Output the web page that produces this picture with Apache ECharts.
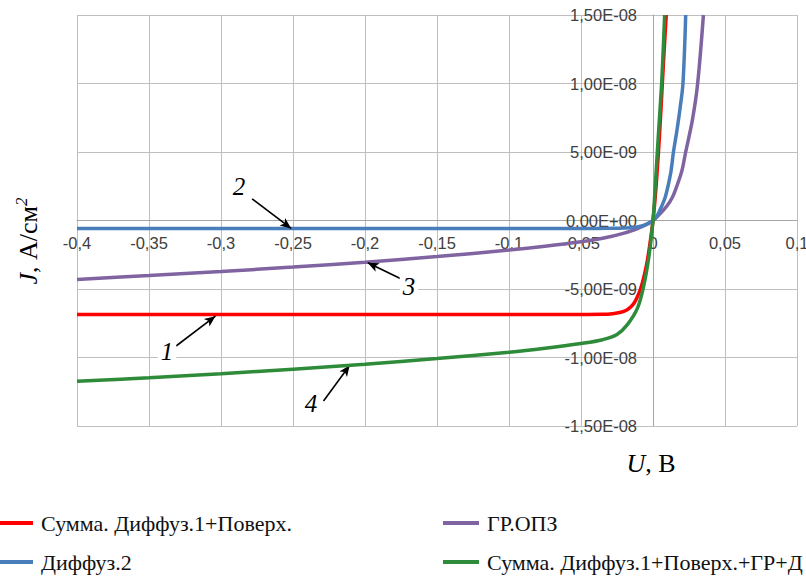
<!DOCTYPE html>
<html>
<head>
<meta charset="utf-8">
<script src="https://cdn.jsdelivr.net/npm/echarts@6/dist/echarts.min.js"></script>
<style>html,body{margin:0;padding:0;background:#fff;}#chart{width:806px;height:579px;}</style>
</head>
<body>
<div id="chart"></div>
<script>
// ---- Data (U in V, J in units of 1e-9 A/cm^2) ----
const nameRed = 'Сумма. Диффуз.1+Поверх.';
const nameBlue = 'Диффуз.2';
const namePurple = 'ГР.ОПЗ';
const nameGreen = 'Сумма. Диффуз.1+Поверх.+ГР+Д';

const uRed = [-0.4, -0.3, -0.2, -0.1, -0.05, -0.035, -0.028, -0.0224, -0.0185, -0.0155, -0.013, -0.0108, -0.009, -0.0074, -0.0055, -0.0039, -0.002, 0, 0.002, 0.0038, 0.0052, 0.0065, 0.0078, 0.0092];
const jRed = [-6.86, -6.86, -6.86, -6.86, -6.86, -6.85, -6.8, -6.7, -6.55, -6.32, -6.0, -5.55, -5.1, -4.56, -3.75, -2.9, -1.6, 0, 2.3, 5.0, 7.5, 10, 12.5, 15];

const uBlue = [-0.4, -0.2, -0.05, -0.03, -0.02, -0.012, -0.007, -0.003, 0, 0.003, 0.006, 0.0085, 0.0104, 0.0125, 0.0142, 0.0165, 0.0188, 0.0208, 0.0227];
const jBlue = [-0.58, -0.58, -0.58, -0.57, -0.55, -0.49, -0.38, -0.21, 0, 0.38, 1.04, 1.7, 2.5, 3.6, 5.0, 6.5, 8.2, 10, 15];

const uPurple = [-0.4, -0.35, -0.3, -0.25, -0.2, -0.15, -0.1, -0.075, -0.05, -0.035, -0.02, -0.01, -0.005, 0, 0.0045, 0.0095, 0.0135, 0.0165, 0.02, 0.0227, 0.0274, 0.031, 0.035];
const jPurple = [-4.3, -4.02, -3.72, -3.4, -3.04, -2.63, -2.16, -1.88, -1.55, -1.3, -0.92, -0.55, -0.3, 0, 0.45, 1.04, 1.7, 2.5, 3.6, 5.0, 7.36, 10, 15];

const uGreen = [-0.4, -0.35, -0.3, -0.25, -0.2, -0.15, -0.1, -0.075, -0.05, -0.035, -0.025, -0.0178, -0.0108, -0.0063, -0.0028, 0, 0.0015, 0.003, 0.0045, 0.006, 0.0071, 0.0081];
const jGreen = [-11.74, -11.48, -11.18, -10.85, -10.5, -10.08, -9.62, -9.33, -8.98, -8.7, -8.32, -7.6, -6.4, -4.7, -2.6, 0, 2.4, 5.0, 7.5, 10, 12.5, 15];

// Axis ranges / ticks
const xMin = -0.4, xMax = 0.1, xStep = 0.05;
const yMin = -15, yMax = 15, yStep = 5; // in 1e-9 units
const yScale = 1e-9;

// Annotations (curve numbers) in data coordinates
const annotLabels = ['1', '2', '3', '4'];
const annotLabelU = [-0.3375, -0.2875, -0.1695, -0.2375];
const annotLabelJ = [-9.53, 2.46, -4.79, -13.34];
const annotTailU = [-0.3312, -0.2784, -0.1719, -0.2288];
const annotTailJ = [-9.16, 1.58, -4.42, -13.17];
const annotTipU = [-0.3039, -0.2513, -0.1981, -0.2106];
const annotTipJ = [-6.98, -0.58, -3.08, -10.57];

function pairs(us, js) { return us.map((u, i) => [u, js[i] * yScale]); }

const sansFont = "'Liberation Sans', Arial, sans-serif";
const serifFont = "'Liberation Serif', 'Times New Roman', serif";
const W = 806, H = 579;
const gridLeft = 77, gridRight = 9, gridTop = 15, gridBottom = 153;

function fmtX(v) {
  let s = (Math.round(v * 100) / 100).toString();
  if (s === '-0') s = '0';
  return s.replace('.', ',');
}
function fmtY(v) {
  let s = Number(v).toExponential(2);
  let m = s.split('e');
  let mant = m[0].replace('.', ',');
  let ex = parseInt(m[1], 10);
  let sign = ex < 0 ? '-' : '+';
  let ea = Math.abs(ex);
  return mant + 'E' + sign + (ea < 10 ? '0' + ea : '' + ea);
}

const chart = echarts.init(document.getElementById('chart'), null, { renderer: 'svg' });

const lineCommon = {
  type: 'line', showSymbol: false, symbol: 'none', smooth: 0.35,
  clip: true, silent: true
};

const markLineData = annotLabels.map((t, i) => [
  { coord: [annotTailU[i], annotTailJ[i] * yScale], symbol: 'none' },
  { coord: [annotTipU[i], annotTipJ[i] * yScale], symbol: 'arrow' }
]);
const markPointData = annotLabels.map((t, i) => ({
  coord: [annotLabelU[i], annotLabelJ[i] * yScale], value: t
}));

const legendText = { fontFamily: serifFont, fontSize: 22, fontWeight: 'normal', color: '#111', lineHeight: 22, padding: [0, 0, 0, 3] };

const option = {
  animation: false,
  backgroundColor: '#ffffff',
  textStyle: { fontFamily: serifFont },
  grid: { left: gridLeft, right: gridRight, top: gridTop, bottom: gridBottom, containLabel: false, outerBoundsMode: 'none' },
  xAxis: {
    type: 'value', min: xMin, max: xMax, interval: xStep,
    axisLine: { onZero: false, lineStyle: { color: '#a6a6a6', width: 1 } },
    axisTick: { show: false },
    splitLine: { show: true, lineStyle: { color: '#bfbfbf', width: 1 } },
    axisLabel: { formatter: fmtX, margin: 14, fontFamily: sansFont, fontSize: 16.5, color: '#404040', showMinLabel: true, showMaxLabel: true, hideOverlap: false }
  },
  yAxis: {
    type: 'value', min: yMin * yScale, max: yMax * yScale, interval: yStep * yScale,
    axisLine: { onZero: false, lineStyle: { color: '#a6a6a6', width: 1 } },
    axisTick: { show: false },
    splitLine: { show: true, lineStyle: { color: '#bfbfbf', width: 1 } },
    axisLabel: { formatter: fmtY, margin: 16, fontFamily: sansFont, fontSize: 16.5, color: '#404040', showMinLabel: true, showMaxLabel: true, hideOverlap: false }
  },
  legend: [
    {
      data: [nameRed, nameBlue], left: -3, top: 512, orient: 'vertical', padding: 0,
      itemWidth: 36, itemHeight: 4, itemGap: 17, icon: 'rect', selectedMode: false,
      textStyle: legendText
    },
    {
      data: [namePurple, nameGreen], left: 443, top: 512, orient: 'vertical', padding: 0,
      itemWidth: 36, itemHeight: 4, itemGap: 17, icon: 'rect', selectedMode: false,
      textStyle: legendText
    }
  ],
  series: [
    Object.assign({}, lineCommon, { name: nameRed, data: pairs(uRed, jRed), color: '#ff0000', lineStyle: { width: 3.5, color: '#ff0000' }, z: 2 }),
    Object.assign({}, lineCommon, { name: namePurple, data: pairs(uPurple, jPurple), color: '#8064a2', lineStyle: { width: 3.5, color: '#8064a2' }, z: 3 }),
    Object.assign({}, lineCommon, { name: nameBlue, data: pairs(uBlue, jBlue), color: '#4a7ebb', lineStyle: { width: 3.5, color: '#4a7ebb' }, z: 4 }),
    Object.assign({}, lineCommon, { name: nameGreen, data: pairs(uGreen, jGreen), color: '#2e8b3a', lineStyle: { width: 3.5, color: '#2e8b3a' }, z: 5 }),
    {
      type: 'line', name: 'annot', data: [], silent: true, z: 10,
      markLine: {
        silent: true, animation: false, symbolSize: [7, 11], precision: 6,
        lineStyle: { color: '#000', width: 1.6, type: 'solid' },
        label: { show: false },
        data: markLineData
      },
      markPoint: {
        silent: true, animation: false, symbol: 'circle', symbolSize: 0,
        label: {
          show: true, position: 'inside', formatter: p => p.value,
          fontFamily: serifFont, fontStyle: 'italic', fontSize: 25, color: '#000',
          backgroundColor: '#fff', padding: [0, 3, 0, 3]
        },
        data: markPointData
      }
    }
  ],
  graphic: [
    {
      type: 'text', x: 28, y: 241, rotation: Math.PI / 2, silent: true,
      style: {
        text: '{i|J}, А/см{s|2}', align: 'center', verticalAlign: 'middle',
        fontFamily: serifFont, fontSize: 26, fill: '#000',
        rich: {
          i: { fontFamily: serifFont, fontStyle: 'italic', fontSize: 26, fill: '#000', lineHeight: 30 },
          s: { fontFamily: serifFont, fontSize: 17, fill: '#000', verticalAlign: 'top', lineHeight: 30 }
        }
      }
    },
    {
      type: 'text', x: 651, y: 463, silent: true,
      style: {
        text: '{i|U}, В', align: 'center', verticalAlign: 'middle',
        fontFamily: serifFont, fontSize: 26, fill: '#000',
        rich: { i: { fontFamily: serifFont, fontStyle: 'italic', fontSize: 26, fill: '#000' } }
      }
    }
  ]
};
chart.setOption(option);

// Place both axes (line + labels) through the origin, as in the reference
const zero = chart.convertToPixel({ gridIndex: 0 }, [0, 0]);
const gridBottomPx = H - gridBottom;
chart.setOption({
  xAxis: { offset: -(gridBottomPx - zero[1]) },
  yAxis: { offset: -(zero[0] - gridLeft) }
});

// SVG renderer: make sure serif texts (legend, curve numbers) use the serif family
const serifTexts = new Set([nameRed, nameBlue, namePurple, nameGreen].concat(annotLabels));
const axisFontTexts = new Set();
document.querySelectorAll('#chart svg text').forEach(t => {
  const s = (t.textContent || '').trim();
  if (serifTexts.has(s)) {
    t.style.fontFamily = "'Liberation Serif', 'Times New Roman', serif";
    if (annotLabels.indexOf(s) >= 0) t.style.fontStyle = 'italic';
  }
});
</script>
</body>
</html>
